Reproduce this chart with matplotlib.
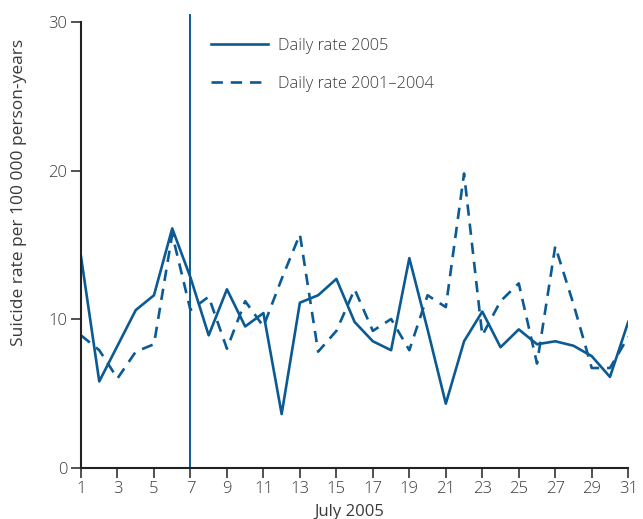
import matplotlib
matplotlib.use("Agg")
import matplotlib.pyplot as plt

# Daily suicide rates per 100 000 person-years, July
days = list(range(1, 32))
rate_2005 = [14.2, 5.8, 8.2, 10.6, 11.6, 16.1, 12.8, 8.9, 12.0, 9.5,
             10.4, 3.6, 11.1, 11.6, 12.7, 9.8, 8.5, 7.9, 14.1, 9.3,
             4.3, 8.5, 10.5, 8.1, 9.3, 8.3, 8.5, 8.2, 7.5, 6.1, 9.8]
rate_2001_2004 = [8.9, 7.9, 6.0, 7.8, 8.3, 15.7, 10.6, 11.5, 8.0, 11.2,
                  9.5, 12.7, 15.7, 7.8, 9.2, 12.0, 9.2, 10.0, 7.9, 11.6,
                  10.8, 19.8, 8.9, 11.2, 12.4, 7.0, 14.9, 11.0, 6.7, 6.7, 8.8]
event_day = 7
x_ticks = list(range(1, 32, 2))
y_ticks = [0, 10, 20, 30]

blue = "#0b5a93"
text_col = "#3a3a3a"

plt.rcParams["font.family"] = ["Open Sans", "DejaVu Sans"]
plt.rcParams["font.weight"] = "light"

fig = plt.figure(figsize=(6.43, 5.19), dpi=100)
ax = fig.add_axes([0.126, 0.0992, 0.851, 0.8584])

ax.plot(days, rate_2005, color=blue, lw=1.9, label="Daily rate 2005")
ax.plot(days, rate_2001_2004, color=blue, lw=1.9, linestyle=(0, (4.3, 3.0)),
        label="Daily rate 2001\u20132004")
ax.plot([event_day, event_day], [0, 30.5], color=blue, lw=1.4, clip_on=False)

ax.set_xlim(1, 31)
ax.set_ylim(0, 30)
ax.set_xticks(x_ticks)
ax.set_yticks(y_ticks)
for s in ("top", "right"):
    ax.spines[s].set_visible(False)
for s in ("left", "bottom"):
    ax.spines[s].set_color("#222222")
    ax.spines[s].set_linewidth(1.5)
ax.tick_params(direction="out", length=7, width=1.1, color="#222222",
               labelsize=12, labelcolor=text_col, pad=3)

ax.set_xlabel("July 2005", fontsize=12, color=text_col)
ax.xaxis.set_label_coords(0.49, -0.081)
ax.set_ylabel("Suicide rate per 100 000 person-years", fontsize=12.5,
              color=text_col)
ax.yaxis.set_label_coords(-0.099, 0.618)

leg = ax.legend(loc="upper left", bbox_to_anchor=(0.2377, 0.964), frameon=False,
                borderpad=0, borderaxespad=0, handlelength=3.5,
                labelspacing=1.32, fontsize=11.8, handletextpad=0.6)
for t in leg.get_texts():
    t.set_color(text_col)

fig.savefig("out.png", dpi=100)
